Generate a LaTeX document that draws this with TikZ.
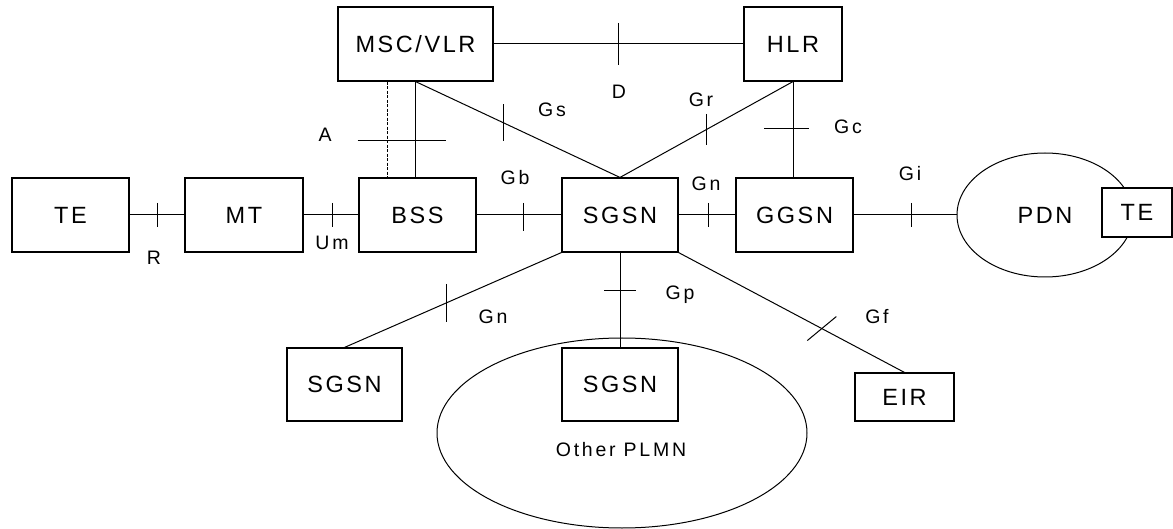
\documentclass[tikz,border=0pt]{standalone}
\usepackage{fontspec}
\setmainfont{Liberation Sans}
\newfontfamily\boxfont[LetterSpace=11]{Liberation Sans}
\newfontfamily\labfont[LetterSpace=14]{Liberation Sans}
\usetikzlibrary{shapes.geometric}
\begin{document}
\begin{tikzpicture}[x=1pt,y=-1pt,
  box/.style={draw, line width=1.1pt, fill=white, inner sep=0pt, minimum height=74pt,
              font=\boxfont\fontsize{23.5}{27}\selectfont},
  oval/.style={draw, ellipse, line width=1pt, inner sep=0pt},
  conn/.style={line width=1pt},
  tickmark/.style={line width=1pt},
  lab/.style={inner sep=0pt, font=\labfont\fontsize{19.5}{23}\selectfont}]
\useasboundingbox (0,0) rectangle (1173,529);

% ovals
\node[oval, minimum width=176pt, minimum height=124pt, font=\boxfont\fontsize{23.5}{27}\selectfont] (pdn) at (1045,215) {PDN};
\node[oval, minimum width=370pt, minimum height=190pt] (plmn) at (622,433) {};
\node[lab] (lplmn) at (621,450) {Other PLMN};

% boxes
\node[box, minimum width=155pt] (msc) at (415.5,44) {MSC/VLR};
\node[box, minimum width=98pt] (hlr) at (793,44) {HLR};
\node[box, minimum width=117pt] (te1) at (70.5,215) {TE};
\node[box, minimum width=118pt] (mt) at (244,215) {MT};
\node[box, minimum width=117pt] (bss) at (417.5,215) {BSS};
\node[box, minimum width=116pt] (sgsn) at (620,215) {SGSN};
\node[box, minimum width=117pt] (ggsn) at (794.5,215) {GGSN};
\node[box, minimum width=70pt, minimum height=49pt] (te2) at (1137,212.5) {TE};
\node[box, minimum width=115pt, minimum height=73pt] (sgsn2) at (344.5,384.5) {SGSN};
\node[box, minimum width=116pt, minimum height=73pt] (sgsn3) at (620,384.5) {SGSN};
\node[box, minimum width=99pt, minimum height=48pt] (eir) at (904.5,397) {EIR};

% row connectors
\draw[conn] (te1.east) -- coordinate[pos=0.5] (tR) (mt.west);
\draw[conn] (mt.east) -- coordinate[pos=0.52] (tUm) (bss.west);
\draw[conn] (bss.east) -- coordinate[pos=0.55] (tGb) (sgsn.west);
\draw[conn] (sgsn.east) -- coordinate[pos=0.52] (tGn) (ggsn.west);
\draw[conn] (ggsn.east) -- coordinate[pos=0.56] (tGi) (pdn.west);

% upper connectors
\draw[conn] (msc.east) -- coordinate[pos=0.5] (tD) (hlr.west);
\draw[conn, dash pattern=on 3pt off 1.5pt] ([xshift=-28.5pt]msc.south) -- ([xshift=-30.5pt]bss.north);
\draw[conn] (msc.south) -- coordinate[pos=0.61] (tA) (msc.south |- bss.north);
\draw[conn] (msc.south) -- coordinate[pos=0.43] (tGs) (sgsn.north);
\draw[conn] (hlr.south) -- coordinate[pos=0.5] (tGr) (sgsn.north);
\draw[conn] (hlr.south) -- coordinate[pos=0.49] (tGc) (hlr.south |- ggsn.north);

% lower connectors
\draw[conn] (sgsn.south west) -- coordinate[pos=0.53] (tGn2) (sgsn2.north);
\draw[conn] (sgsn.south) -- coordinate[pos=0.4] (tGp) (sgsn3.north);
\draw[conn] (sgsn.south east) -- coordinate[pos=0.634] (tGf) (eir.north);

% tick marks
\draw[tickmark] (tR) ++(0,-12) -- ++(0,24);
\draw[tickmark] (tUm) ++(0,-12) -- ++(0,24);
\draw[tickmark] (tGb) ++(0,-12) -- ++(0,28);
\draw[tickmark] (tGn) ++(0,-12) -- ++(0,24);
\draw[tickmark] (tGi) ++(0,-12) -- ++(0,24);
\draw[tickmark] (tD) ++(0,-21) -- ++(0,42);
\draw[tickmark] (tA) ++(-58,0) -- ++(88,0);
\draw[tickmark] (tGs) ++(0,-18.5) -- ++(0,37);
\draw[tickmark] (tGr) ++(0,-15.5) -- ++(0,31);
\draw[tickmark] (tGc) ++(-29,0) -- ++(45,0);
\draw[tickmark] (tGn2) ++(0,-19) -- ++(0,38);
\draw[tickmark] (tGp) ++(-16,0) -- ++(32,0);
\draw[tickmark] (tGf) ++(-14.5,12) -- ++(29,-24);

% interface labels
\node[lab] (lR) at (154,258) {R};
\node[lab] (lUm) at (332,243) {Um};
\node[lab] (lGb) at (515,178) {Gb};
\node[lab] (lGn) at (706,184) {Gn};
\node[lab] (lGi) at (910,174) {Gi};
\node[lab] (lD) at (619,92) {D};
\node[lab] (lA) at (325,135) {A};
\node[lab] (lGs) at (552,110) {Gs};
\node[lab] (lGr) at (701,100) {Gr};
\node[lab] (lGc) at (848,127) {Gc};
\node[lab] (lGn2) at (493,317) {Gn};
\node[lab] (lGp) at (680,295) {Gp};
\node[lab] (lGf) at (877,317) {Gf};
\end{tikzpicture}
\end{document}
